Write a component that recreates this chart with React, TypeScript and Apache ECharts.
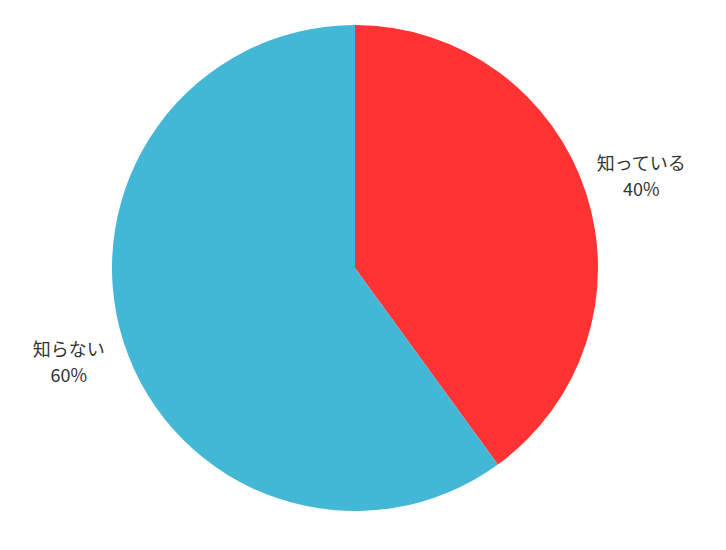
import React, { useEffect, useRef } from "react";
import * as echarts from "echarts";

const categories = ["知っている", "知らない"];
const values = [40, 60];
const colors = ["#FF3333", "#42B8D6"];

export default function App() {
  const ref = useRef<HTMLDivElement>(null);
  useEffect(() => {
    if (!ref.current) return;
    const chart = echarts.init(ref.current, null, { renderer: "svg" });
    chart.setOption({
      animation: false,
      backgroundColor: "#ffffff",
      series: [
        {
          type: "pie",
          center: [355, 268],
          radius: 243,
          startAngle: 90,
          clockwise: true,
          avoidLabelOverlap: false,
          data: categories.map((name, i) => ({
            name,
            value: values[i],
            itemStyle: { color: colors[i] },
          })),
          label: {
            show: true,
            position: "outside",
            formatter: "{a|{b}}\n{a|{c}%}",
            distanceToLabelLine: -50,
            rich: {
              a: {
                width: 100,
                align: "center",
                fontSize: 18,
                lineHeight: 26,
                color: "#333333",
                fontFamily: "Noto Sans CJK JP",
              },
            },
          },
          labelLine: { show: false, length: 58, length2: 0 },
          emphasis: { disabled: true },
        },
      ],
    });
    return () => chart.dispose();
  }, []);
  return (
    <div
      ref={ref}
      style={{ position: "absolute", left: 0, top: 0, width: 726, height: 550 }}
    />
  );
}
